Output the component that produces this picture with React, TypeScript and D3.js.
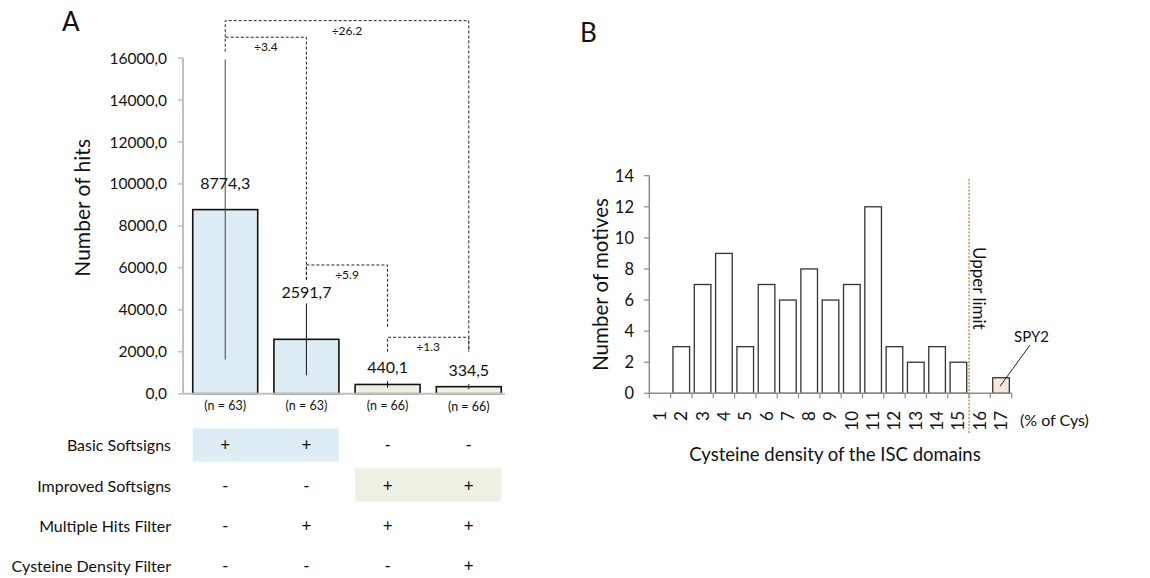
import React from "react";
import * as d3 from "d3";

// ---------- Panel A data ----------
const conditions = ["c1", "c2", "c3", "c4"];
const hitMeans = [8774.3, 2591.7, 440.1, 334.5];
const hitErrors = [7150, 1710, 160, 120];
const hitLabels = ["8774,3", "2591,7", "440,1", "334,5"];
const nLabels = ["(n = 63)", "(n = 63)", "(n = 66)", "(n = 66)"];
const hitTicks = [0, 2000, 4000, 6000, 8000, 10000, 12000, 14000, 16000];
const rowNames = ["Basic Softsigns", "Improved Softsigns", "Multiple Hits Filter", "Cysteine Density Filter"];
const rowSigns = [
  ["+", "+", "-", "-"],
  ["-", "-", "+", "+"],
  ["-", "+", "+", "+"],
  ["-", "-", "-", "+"],
];
// fold-change brackets: from, to, top value, left drop value, right drop value
const foldText = ["÷26.2", "÷3.4", "÷5.9", "÷1.3"];
const foldFrom = [0, 0, 1, 2];
const foldTo = [3, 1, 2, 3];
const foldTop = [17780, 16990, 6135, 2690];
const foldLeftEnd = [16990, 16300, 5420, 2000];
const foldRightEnd = [2000, 5420, 3130, 2000];

// ---------- Panel B data ----------
const densities = ["1", "2", "3", "4", "5", "6", "7", "8", "9", "10", "11", "12", "13", "14", "15", "16", "17"];
const motives = [0, 3, 7, 9, 3, 7, 6, 8, 6, 7, 12, 3, 2, 3, 2, 0, 1];
const motiveTicks = [0, 2, 4, 6, 8, 10, 12, 14];

const FONT = "Lato, 'Open Sans', sans-serif";
const BLUE = "#deedf5";
const GREEN = "#eef0e3";
const PEACH = "#fbe8da";

export default function App() {
  // Panel A scales
  const yA = d3.scaleLinear().domain([0, 16000]).range([393.7, 58]);
  const xA = d3.scaleBand<string>().domain(conditions).range([183, 511]).paddingInner(0.2).paddingOuter(0.12);
  const bwA = xA.bandwidth();
  const cA = (i: number) => (xA(conditions[i]) as number) + bwA / 2;
  const labelLift = [21, 41, 11, 11];
  const rowY = [445, 486, 526, 566];
  const colFill = [BLUE, BLUE, GREEN, GREEN];

  // Panel B scales
  const yB = d3.scaleLinear().domain([0, 14]).range([393.3, 175.7]);
  const xB = d3.scaleBand<string>().domain(densities).range([649.3, 1011.7]).paddingInner(0.22).paddingOuter(0.11);
  const bwB = xB.bandwidth();
  const stepB = xB.step();
  const boundaries = d3.range(densities.length + 1).map((k) => 649.3 + k * stepB);
  const limitX = (xB("16") as number) - (stepB * 0.22) / 2;
  const spyX = (xB("17") as number) + bwB / 2;

  return (
    <svg width={1150} height={578} style={{ position: "absolute", left: 0, top: 0, background: "#fff" }} fontFamily={FONT}>
      {/* ======== Panel A ======== */}
      <text x={62} y={31} fontSize={26} fill="#111">A</text>

      {/* y axis */}
      <line x1={183} x2={183} y1={yA(16000)} y2={yA(0)} stroke="#bfbfbf" strokeWidth={2} />
      {hitTicks.map((t) => (
        <g key={t}>
          <line x1={178} x2={183} y1={yA(t)} y2={yA(t)} stroke="#bfbfbf" strokeWidth={1.5} />
          <text x={167} y={yA(t)} dy="0.36em" textAnchor="end" fontSize={15.5} fill="#111">
            {d3.format(".1f")(t).replace(".", ",")}
          </text>
        </g>
      ))}
      <text transform={`translate(90,${(yA(0) + yA(16000)) / 2 - 18}) rotate(-90)`} textAnchor="middle" fontSize={21} fill="#111">
        Number of hits
      </text>

      {/* bars */}
      {hitMeans.map((v, i) => (
        <rect key={i} x={xA(conditions[i])} y={yA(v)} width={bwA} height={yA(0) - yA(v)} fill={colFill[i]} stroke="#111" strokeWidth={1.6} />
      ))}
      <line x1={183} x2={505} y1={yA(0)} y2={yA(0)} stroke="#bfbfbf" strokeWidth={2} />
      {/* error bars */}
      {hitMeans.map((v, i) => (
        <line key={i} x1={cA(i)} x2={cA(i)} y1={yA(v - hitErrors[i])} y2={yA(v + hitErrors[i])} stroke={i === 0 ? "#444" : "#111"} strokeWidth={1} />
      ))}
      {/* value labels */}
      {hitLabels.map((s, i) => (
        <text key={i} x={cA(i)} y={yA(hitMeans[i]) - labelLift[i]} textAnchor="middle" fontSize={16} fill="#111">{s}</text>
      ))}
      {nLabels.map((s, i) => (
        <text key={i} x={cA(i)} y={410 + (i === 3 ? 1 : 0)} textAnchor="middle" fontSize={12.5} fill="#111">{s}</text>
      ))}

      {/* fold-change brackets */}
      {foldText.map((s, k) => {
        const x1 = cA(foldFrom[k]);
        const x2 = cA(foldTo[k]);
        const yt = yA(foldTop[k]);
        const path = `M${x1},${yA(foldLeftEnd[k])}V${yt}H${x2}V${yA(foldRightEnd[k])}`;
        return (
          <g key={k}>
            <path d={path} fill="none" stroke="#222" strokeWidth={1} strokeDasharray="3,2" />
            <text x={(x1 + x2) / 2} y={yt + 14} textAnchor="middle" fontSize={12} fill="#111">{s}</text>
          </g>
        );
      })}

      {/* condition table */}
      <rect x={xA("c1")} y={428.3} width={(xA("c2") as number) + bwA - (xA("c1") as number)} height={33.4} fill={BLUE} />
      <rect x={xA("c3")} y={468.3} width={(xA("c4") as number) + bwA - (xA("c3") as number)} height={33.4} fill={GREEN} />
      {rowNames.map((name, r) => (
        <g key={name}>
          <text x={171} y={rowY[r]} dy="0.35em" textAnchor="end" fontSize={16} fill="#111">{name}</text>
          {rowSigns[r].map((s, i) => (
            <text key={i} x={cA(i)} y={rowY[r]} dy="0.35em" textAnchor="middle" fontSize={17} fill="#111">{s}</text>
          ))}
        </g>
      ))}

      {/* ======== Panel B ======== */}
      <text x={580} y={42} fontSize={26} fill="#111">B</text>

      <line x1={649.3} x2={649.3} y1={yB(14)} y2={yB(0)} stroke="#8c8c8c" strokeWidth={1.5} />
      {motiveTicks.map((t) => (
        <g key={t}>
          <line x1={644} x2={649.3} y1={yB(t)} y2={yB(t)} stroke="#8c8c8c" strokeWidth={1.2} />
          <text x={634} y={yB(t)} dy="0.36em" textAnchor="end" fontSize={16.5} fill="#111">{t}</text>
        </g>
      ))}
      <text transform={`translate(608,${(yB(0) + yB(14)) / 2}) rotate(-90)`} textAnchor="middle" fontSize={20.5} fill="#111">
        Number of motives
      </text>

      {motives.map((v, i) =>
        v > 0 ? (
          <rect key={i} x={xB(densities[i])} y={yB(v)} width={bwB} height={yB(0) - yB(v)} fill={i === 16 ? PEACH : "#fff"} stroke="#333" strokeWidth={1.3} />
        ) : null
      )}
      <line x1={649.3} x2={boundaries[boundaries.length - 1]} y1={yB(0)} y2={yB(0)} stroke="#8c8c8c" strokeWidth={1.5} />
      {boundaries.map((bx, k) => (
        <line key={k} x1={bx} x2={bx} y1={yB(0)} y2={yB(0) + 5} stroke="#8c8c8c" strokeWidth={1.2} />
      ))}
      {densities.map((d) => (
        <text key={d} transform={`translate(${(xB(d) as number) + bwB / 2},411) rotate(-90)`} dy="0.35em" textAnchor="end" fontSize={17} fill="#111">
          {d}
        </text>
      ))}
      <text x={1020} y={420} dy="0.35em" fontSize={16} fill="#111">(% of Cys)</text>
      <text x={835} y={455} dy="0.35em" textAnchor="middle" fontSize={18.5} fill="#111">Cysteine density of the ISC domains</text>

      {/* upper limit */}
      <line x1={limitX} x2={limitX} y1={179} y2={433} stroke="#c8823a" strokeWidth={1.3} strokeDasharray="2,1.5" />
      <text transform={`translate(${limitX + 10},247) rotate(90)`} dy="0.35em" textAnchor="start" fontSize={17} fill="#111">Upper limit</text>

      {/* SPY2 callout */}
      <text x={1031.5} y={337} dy="0.35em" textAnchor="middle" fontSize={15} fill="#111">SPY2</text>
      <line x1={1030} x2={spyX - 1} y1={345} y2={yB(0.45)} stroke="#222" strokeWidth={1} />
    </svg>
  );
}
